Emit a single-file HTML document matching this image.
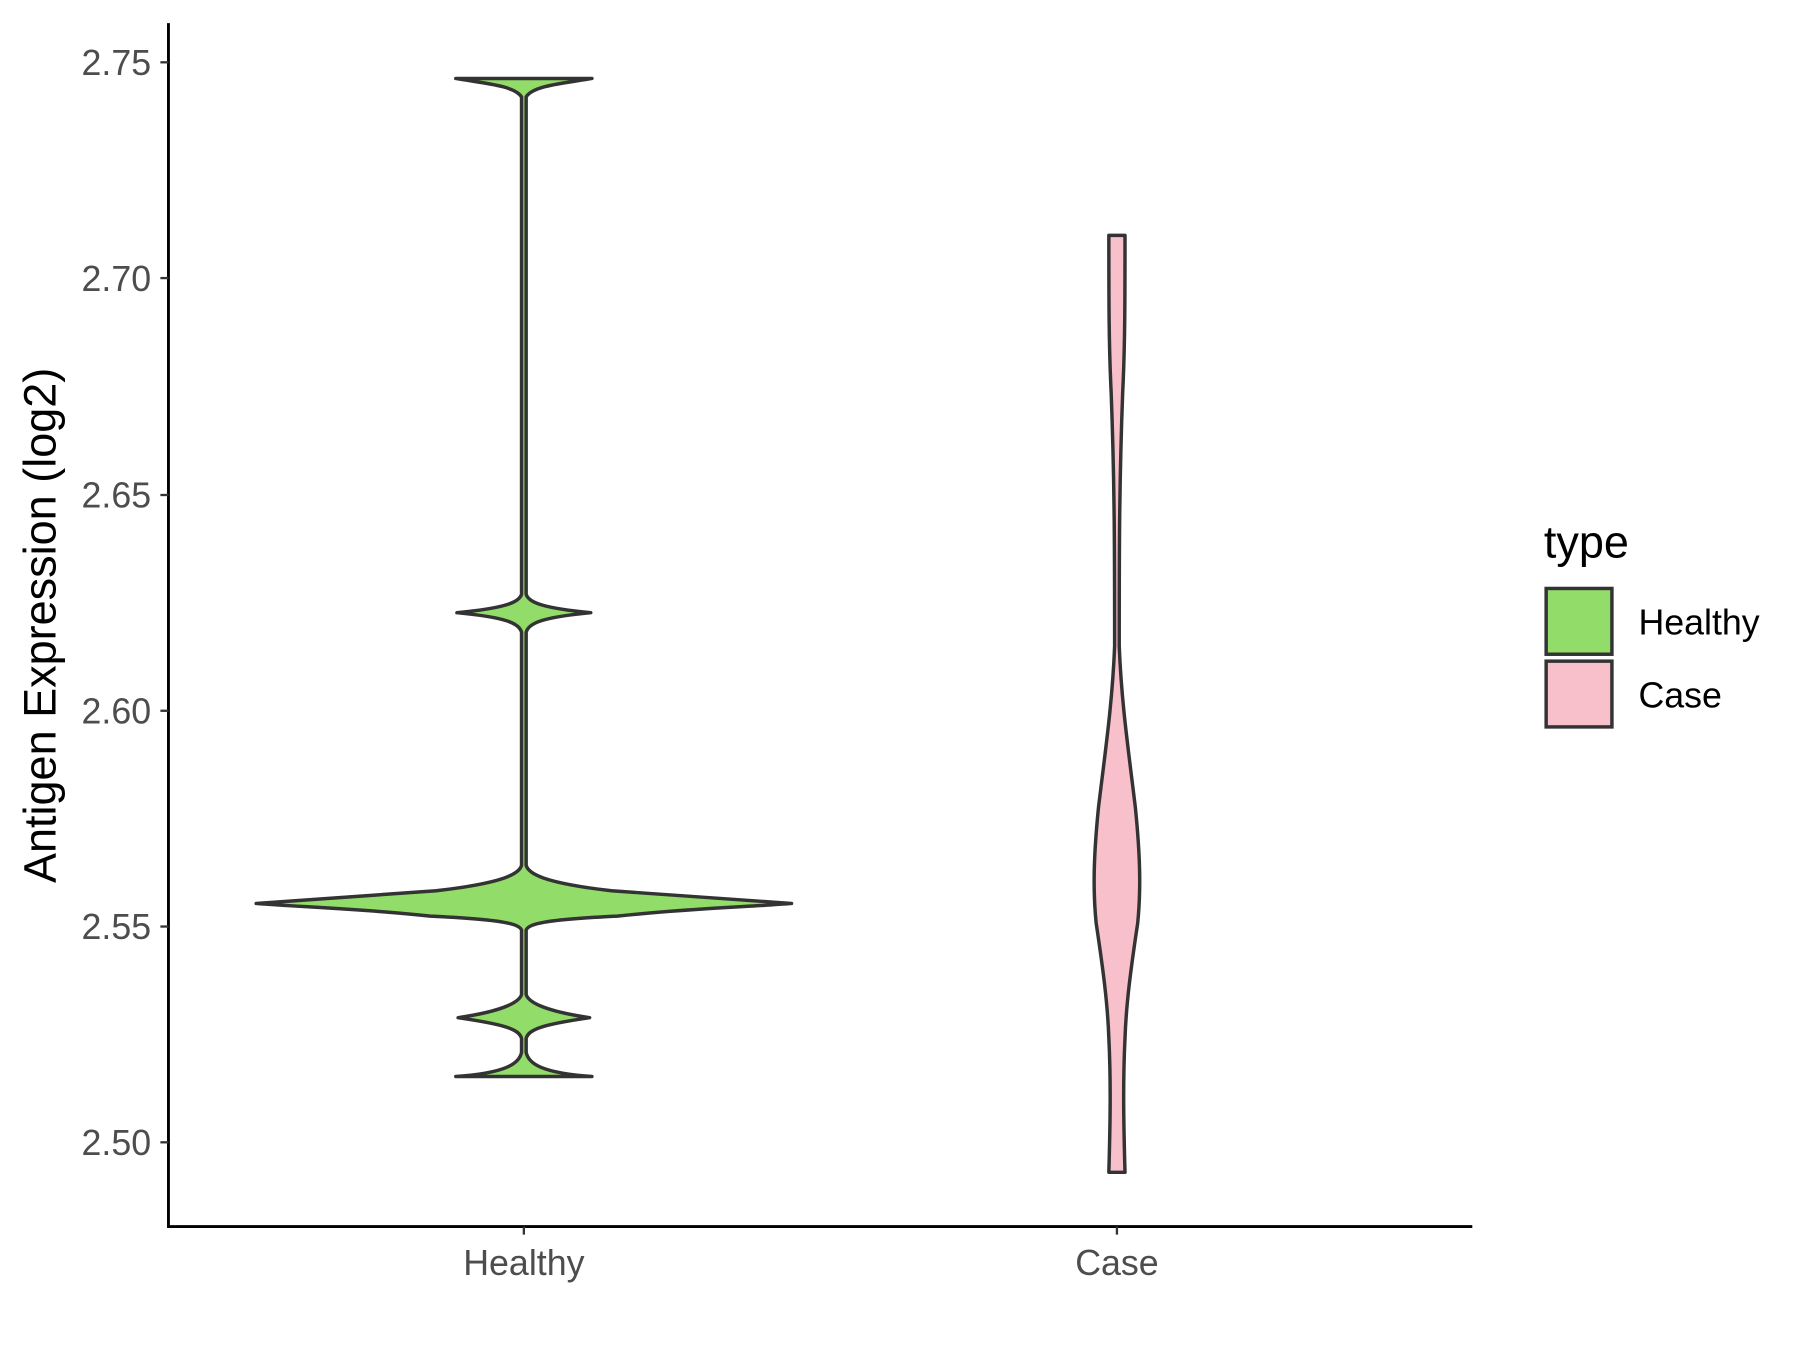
<!DOCTYPE html>
<html><head><meta charset="utf-8"><style>html,body{margin:0;padding:0;background:#fff}</style></head>
<body>
<svg xmlns="http://www.w3.org/2000/svg" width="1800" height="1350" viewBox="0 0 1560 1170" font-family="Liberation Sans, Arial, sans-serif">
<rect width="1560" height="1170" fill="#fff"/>
<!-- Healthy violin -->
<path d="M395,68 L513,68 C490,72 462,74 456,84 L456,515 C458,522 470,527 512,531 C470,535 458,540 456,548 L456,750 C458,757 470,765 530,772 C600,777 650,780 686,783 C650,786 600,787 535,794 C470,797 458,801 456,806 L456,862 C458,868 470,876 511,882 C470,888 458,892 456,900 L456,912 C458,922 470,930 513,933 L395,933 C438,930 450,922 452,912 L452,900 C450,892 438,888 397,882 C438,876 450,868 452,862 L452,806 C450,801 438,797 373,794 C308,787 258,786 222,783 C258,780 308,777 378,772 C438,765 450,757 452,750 L452,548 C450,540 438,535 396,531 C438,527 450,522 452,515 L452,84 C446,74 418,72 395,68 Z" fill="#92dc6a" stroke="#333" stroke-width="3" stroke-linejoin="round"/>
<!-- Case violin -->
<path d="M961,204 L975,204 C975,260 975,300 973,340 C970,420 970,480 970,560 C972,610 978,650 984,700 C988,740 989,770 986,800 C980,840 976,870 975,900 C973,940 974,980 975,1016 L961,1016 C962,980 963,940 961,900 C960,870 956,840 950,800 C947,770 948,740 952,700 C958,650 964,610 966,560 C966,480 966,420 963,340 C961,300 961,260 961,204 Z" fill="#f7c0cb" stroke="#333" stroke-width="3" stroke-linejoin="round"/>
<!-- axes -->
<line x1="146" y1="20" x2="146" y2="1064" stroke="#000" stroke-width="2.5"/>
<line x1="145" y1="1063" x2="1276" y2="1063" stroke="#000" stroke-width="2.5"/>
<g stroke="#333" stroke-width="2">
<line x1="139" y1="54" x2="146" y2="54"/><line x1="139" y1="241" x2="146" y2="241"/><line x1="139" y1="429" x2="146" y2="429"/><line x1="139" y1="616" x2="146" y2="616"/><line x1="139" y1="803" x2="146" y2="803"/><line x1="139" y1="990" x2="146" y2="990"/>
<line x1="454" y1="1063" x2="454" y2="1070"/><line x1="968" y1="1063" x2="968" y2="1070"/>
</g>
<g fill="#4d4d4d" font-size="31" text-anchor="end">
<text x="131" y="65">2.75</text><text x="131" y="252">2.70</text><text x="131" y="440">2.65</text><text x="131" y="627">2.60</text><text x="131" y="814">2.55</text><text x="131" y="1001">2.50</text>
</g>
<g fill="#4d4d4d" font-size="31" text-anchor="middle">
<text x="454" y="1105">Healthy</text><text x="968" y="1105">Case</text>
</g>
<text transform="translate(48,542) rotate(-90)" font-size="39" text-anchor="middle" fill="#000">Antigen Expression (log2)</text>
<!-- legend -->
<text x="1338" y="483" font-size="39" fill="#000">type</text>
<rect x="1340" y="510" width="57" height="57" fill="#92dc6a" stroke="#333" stroke-width="3"/>
<rect x="1340" y="573" width="57" height="57" fill="#f7c0cb" stroke="#333" stroke-width="3"/>
<text x="1420" y="550" font-size="31" fill="#000">Healthy</text>
<text x="1420" y="613" font-size="31" fill="#000">Case</text>
</svg>
</body></html>
